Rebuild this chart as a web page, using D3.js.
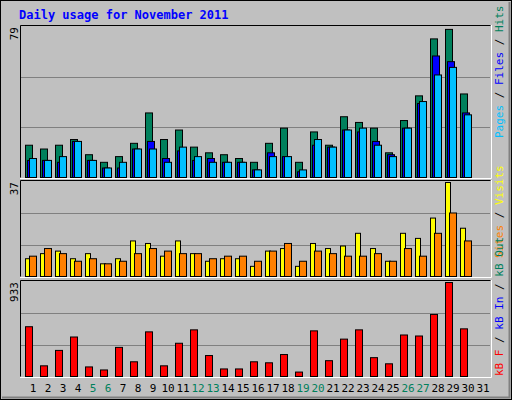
<!DOCTYPE html>
<html><head><meta charset="utf-8">
<script src="https://cdn.jsdelivr.net/npm/d3@7"></script>
<style>body{margin:0;background:#fff}svg{display:block;font-family:"DejaVu Sans Mono",monospace}</style>
</head><body><div id="chart"></div>
<script>
// Daily values
const days = d3.range(1, 32);
const weekends = [5, 6, 12, 13, 19, 20, 26, 27];
const hits = [17,15,17,20,12,8,11,18,34,20,25,16,13,12,10,8,18,26,8,24,17,32,29,26,13,30,43,73,78,44,0];
const files = [9,9,8,19,9,5,5,15,19,10,14,9,10,8,8,4,13,11,3,17,16,25,24,19,12,26,39,64,61,34,0];
const pages = [10,9,11,19,9,5,8,15,15,8,16,11,8,8,8,4,11,11,4,20,16,25,26,17,11,26,40,54,58,33,0];
const visits = [7,9,10,7,9,5,7,14,13,8,14,9,6,7,7,4,10,11,4,13,11,12,17,11,6,17,15,23,37,19,0];
const sites = [8,11,9,6,7,5,6,9,11,10,9,9,7,8,8,6,10,13,6,10,9,8,8,9,6,11,8,17,25,14,0];
const kbytes = [494,106,259,392,95,65,289,146,443,106,330,463,208,75,75,146,136,218,44,453,157,371,463,187,126,412,402,616,933,473,0];
const maxTop = 79, maxMid = 37, maxBot = 933;

const W = 512, H = 400;
const svg = d3.select("#chart").append("svg").attr("width", W).attr("height", H);

// Frame
svg.append("rect").attr("width", W).attr("height", H).attr("fill", "#c0c0c0");
svg.append("rect").attr("x", 0.5).attr("y", 0.5).attr("width", W - 1).attr("height", H - 1)
  .attr("fill", "none").attr("stroke", "#000");
svg.append("path").attr("d", "M2,397.5H509.5V2").attr("fill", "none").attr("stroke", "#808080").attr("stroke-width", 2);

svg.append("text").attr("x", 19).attr("y", 19).attr("fill", "#0000ff")
  .attr("font-size", 12).attr("font-weight", "bold").text("Daily usage for November 2011");

const x = d3.scaleLinear().domain([1, 32]).range([20, 485]);
const L = 20, R = 490;

const panels = [
  { top: 25, bottom: 177, max: maxTop, label: "79" },
  { top: 180, bottom: 276, max: maxMid, label: "37" },
  { top: 280, bottom: 376, max: maxBot, label: "933" }
];
panels.forEach(p => {
  p.y = d3.scaleLinear().domain([0, p.max]).range([p.bottom, p.top + 2]);
  const g = svg.append("g");
  [1, 2].forEach(k => {
    const yy = Math.round(p.bottom - (p.bottom - p.top - 2) * k / 3) + 0.5;
    g.append("line").attr("x1", L).attr("x2", R).attr("y1", yy).attr("y2", yy).attr("stroke", "#808080");
  });
  g.append("path").attr("d", `M${L + 0.5},${p.bottom + 0.5}V${p.top + 0.5}H${R + 0.5}`)
    .attr("fill", "none").attr("stroke", "#000");
  g.append("path").attr("d", `M${L},${p.bottom + 1.5}H${R + 1.5}V${p.top}`)
    .attr("fill", "none").attr("stroke", "#fff");
  g.append("text").attr("transform", `translate(18,${p.top + 2}) rotate(-90)`)
    .attr("text-anchor", "end").attr("font-size", 11).attr("fill", "#000").text(p.label);
});

function bars(vals, p, off, w, color) {
  svg.append("g").selectAll("rect").data(vals.map((v, i) => ({ v, d: i + 1 })).filter(o => o.v > 0))
    .join("rect")
    .attr("x", o => x(o.d) + off + 0.5).attr("y", o => p.y(o.v) + 0.5)
    .attr("width", w).attr("height", o => p.bottom - p.y(o.v))
    .attr("fill", color).attr("stroke", "#000");
}
bars(hits, panels[0], 5, 7, "#00805c");
bars(files, panels[0], 7, 7, "#0000ff");
bars(pages, panels[0], 9, 7, "#00c0ff");
bars(visits, panels[1], 5, 5, "#ffff00");
bars(sites, panels[1], 9, 7, "#ff8000");
bars(kbytes, panels[2], 5, 7, "#ff0000");

// Day labels
svg.append("g").selectAll("text").data(days).join("text")
  .attr("x", d => x(d) + 13).attr("y", 392).attr("text-anchor", "middle").attr("font-size", 11)
  .attr("fill", d => weekends.includes(d) ? "#00805c" : "#000").text(d => d);

// Right side legends
function legend(parts, yStart) {
  const t = svg.append("text").attr("transform", `translate(503,${yStart}) rotate(-90)`)
    .attr("font-size", 11);
  parts.forEach(([s, c]) => t.append("tspan").attr("fill", c).text(s));
}
legend([["Pages", "#00c0ff"], [" / ", "#000"], ["Files", "#0000ff"], [" / ", "#000"], ["Hits", "#00805c"]], 138);
legend([["Sites", "#ff8000"], [" / ", "#000"], ["Visits", "#ffff00"]], 258);
legend([["kB F", "#ff0000"], [" / ", "#000"], ["kB In", "#0000ff"], [" / ", "#000"], ["kB Out", "#00805c"]], 376);
</script></body></html>
